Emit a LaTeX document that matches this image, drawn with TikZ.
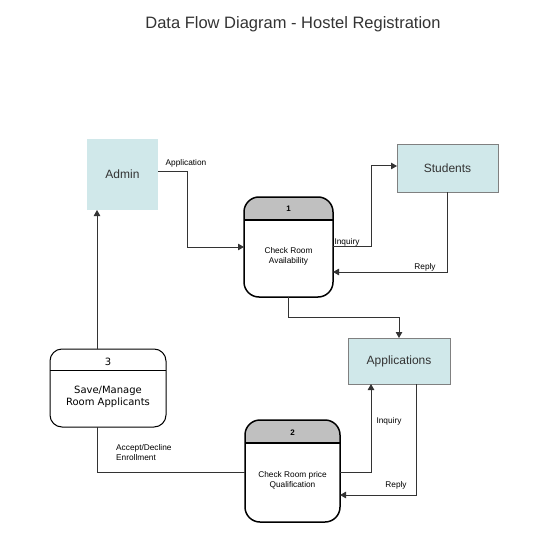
\documentclass[tikz,border=0pt]{standalone}
\usepackage{fontspec}
\setmainfont{Liberation Sans}
\newfontfamily\procfont{DejaVu Sans}
\usetikzlibrary{arrows.meta,positioning}

\definecolor{storecyan}{HTML}{D0E8EA}
\definecolor{headgray}{HTML}{C0C0C0}
\definecolor{linegray}{HTML}{333333}

\tikzset{
  entity/.style={fill=storecyan, text=black!80, font=\fontsize{12}{14}\selectfont,
    inner sep=0pt, outer sep=0pt},
  proc/.style={inner sep=0pt, outer sep=0pt},
  numtext/.style={font=\bfseries\fontsize{8}{9}\selectfont, inner sep=0pt},
  proctext/.style={font=\fontsize{8.3}{10}\selectfont, align=center, inner sep=0pt},
  flow/.style={draw=linegray, line width=1pt, -{Triangle[length=6pt,width=6.5pt]}},
  lbl/.style={font=\fontsize{8.3}{10}\selectfont, inner sep=0pt}
}

\begin{document}
\begin{tikzpicture}[x=1pt, y=-1pt]
\useasboundingbox (0,0) rectangle (542,556);

% --- Titulo ---
\node[font=\fontsize{16.5}{20}\selectfont, text=black!80] (title) at (293,24)
  {Data Flow Diagram - Hostel Registration};

% --- Entidades externas y almacenes ---
\node[entity, minimum width=71pt, minimum height=71pt] (admin) at (122.5,174.5) {Admin};
\node[entity, draw=gray, minimum width=101pt, minimum height=48pt] (students) at (447.5,168) {Students};
\node[entity, draw=gray, minimum width=102pt, minimum height=46pt] (apps) at (399,361) {Applications};

% --- Procesos ---
\node[proc, minimum width=89pt, minimum height=100pt] (p1) at (288.5,247) {};
\node[proc, minimum width=95pt, minimum height=102pt] (p2) at (292.5,471) {};
\node[proc, minimum width=116pt, minimum height=78pt] (p3) at (108,388) {};

% cabecera, linea y contorno de cada proceso
\foreach \p/\h/\c/\w/\r in {p1/23/headgray/1.5/15, p2/23/headgray/1.5/15, p3/21/white/1/12} {
  \begin{scope}
    \clip[rounded corners=\r pt] (\p.south west) rectangle (\p.north east);
    \fill[\c] (\p.north west) rectangle ([yshift=-\h pt]\p.north east);
  \end{scope}
  \draw[line width=\w pt] ([yshift=-\h pt]\p.north west) -- ([yshift=-\h pt]\p.north east);
  \draw[line width=\w pt, rounded corners=\r pt] (\p.south west) rectangle (\p.north east);
}

% --- Textos de los procesos ---
\node[numtext] (n1) at ([yshift=-12pt]p1.north) {1};
\node[proctext] (t1) at (288.5,256.5) {Check Room\\Availability};
\node[numtext] (n2) at ([yshift=-13pt]p2.north) {2};
\node[proctext] (t2) at (292.5,480) {Check Room price\\Qualification};
\node[font=\procfont\fontsize{10}{12}\selectfont, inner sep=0pt] (n3) at (108,362) {3};
\node[font=\procfont\fontsize{10}{12}\selectfont, align=center, inner sep=0pt] (t3) at (108,397)
  {Save/Manage\\Room Applicants};

% --- Flujos de datos ---
\draw[flow] ([yshift=3.5pt]admin.east) -| ([xshift=-57pt]p1.west) -- (p1.west);
\draw[flow] ([yshift=1pt]p1.east) -| ([xshift=-26pt,yshift=2pt]students.west) -- ([yshift=2pt]students.west);
\draw[flow] (students.south) |- ([yshift=-25pt]p1.east);
\draw[flow] (p1.south) -- ++(0,20) -| (apps.north);
\draw[flow] ([yshift=-1pt]p2.east) -| ([xshift=-28pt]apps.south);
\draw[flow] ([xshift=17pt]apps.south) |- ([yshift=-24pt]p2.east);
\draw[draw=linegray, line width=1pt] ([xshift=-11pt]p3.south) |- ([yshift=-1pt]p2.west);
\draw[flow] ([xshift=-11pt]p3.north) -- ([xshift=-11pt]p3.north |- admin.south);

% --- Etiquetas ---
\node[lbl] (l1) at (186,163) {Application};
\node[lbl] (l2) at (347,242) {Inquiry};
\node[lbl] (l3) at (425,267) {Reply};
\node[lbl] (l4) at (389,421) {Inquiry};
\node[lbl] (l5) at (396,485) {Reply};
\node[lbl, align=left, anchor=west] (l6) at (116,453) {Accept/Decline\\Enrollment};

\end{tikzpicture}
\end{document}
